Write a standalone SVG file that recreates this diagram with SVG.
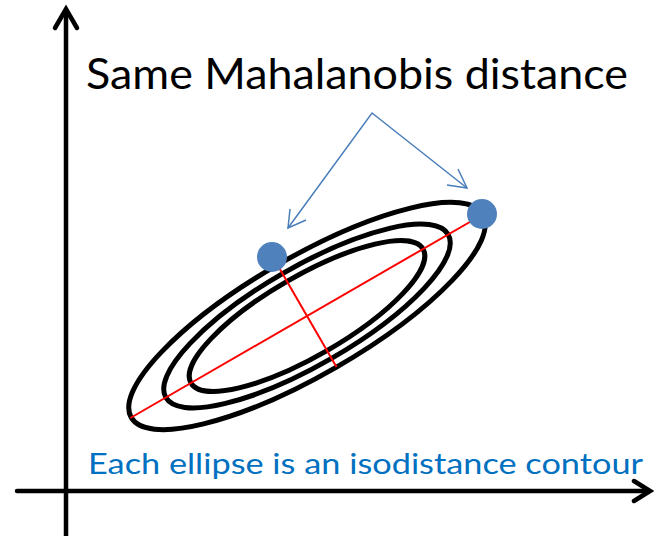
<svg xmlns="http://www.w3.org/2000/svg" width="654" height="536" viewBox="0 0 654 536">
<style>
.axis{stroke:#000;stroke-width:4.5;fill:none;stroke-linecap:round;stroke-linejoin:miter}
.ell{stroke:#000;stroke-width:5;fill:none}
.red{stroke:#FF0000;stroke-width:2;fill:none}
.dot{fill:#4F81BD}
.pointer{stroke:#4A7EBB;stroke-width:1.5;fill:none}
.title{font-family:Lato,"Open Sans",sans-serif;font-size:42px;fill:#000}
.note{font-family:Lato,"Open Sans",sans-serif;font-size:29px;fill:#0070C0}
</style>
<g id="axes">
<line class="axis" x1="66" y1="536" x2="66" y2="10"/>
<polyline class="axis" points="55,28 66,9 77,28"/>
<line class="axis" x1="17" y1="491" x2="649" y2="491"/>
<polyline class="axis" points="634,481 650,491 634,501"/>
</g>
<g id="ellipses" transform="translate(307,316) rotate(-30)">
<ellipse class="ell" cx="0" cy="0" rx="203" ry="59"/>
<ellipse class="ell" cx="0" cy="0" rx="163" ry="49"/>
<ellipse class="ell" cx="0" cy="0" rx="134" ry="40"/>
<line class="red" x1="-204" y1="0" x2="204" y2="0"/>
<line class="red" x1="0" y1="-59" x2="0" y2="59"/>
</g>
<g id="point-left"><circle class="dot" cx="272" cy="257" r="15"/></g>
<g id="point-right"><circle class="dot" cx="482" cy="214" r="15"/></g>
<g id="connectors">
<polyline class="pointer" points="288,228 372,113 467,188"/>
<polyline class="pointer" points="290,209 288,228 306,220"/>
<polyline class="pointer" points="458,169 467,188 447,185"/>
</g>
<g id="title"><text class="title" x="86" y="89" textLength="542" lengthAdjust="spacingAndGlyphs">Same Mahalanobis distance</text></g>
<g id="note"><text class="note" x="88" y="474" textLength="555" lengthAdjust="spacingAndGlyphs">Each ellipse is an isodistance contour</text></g>
</svg>
